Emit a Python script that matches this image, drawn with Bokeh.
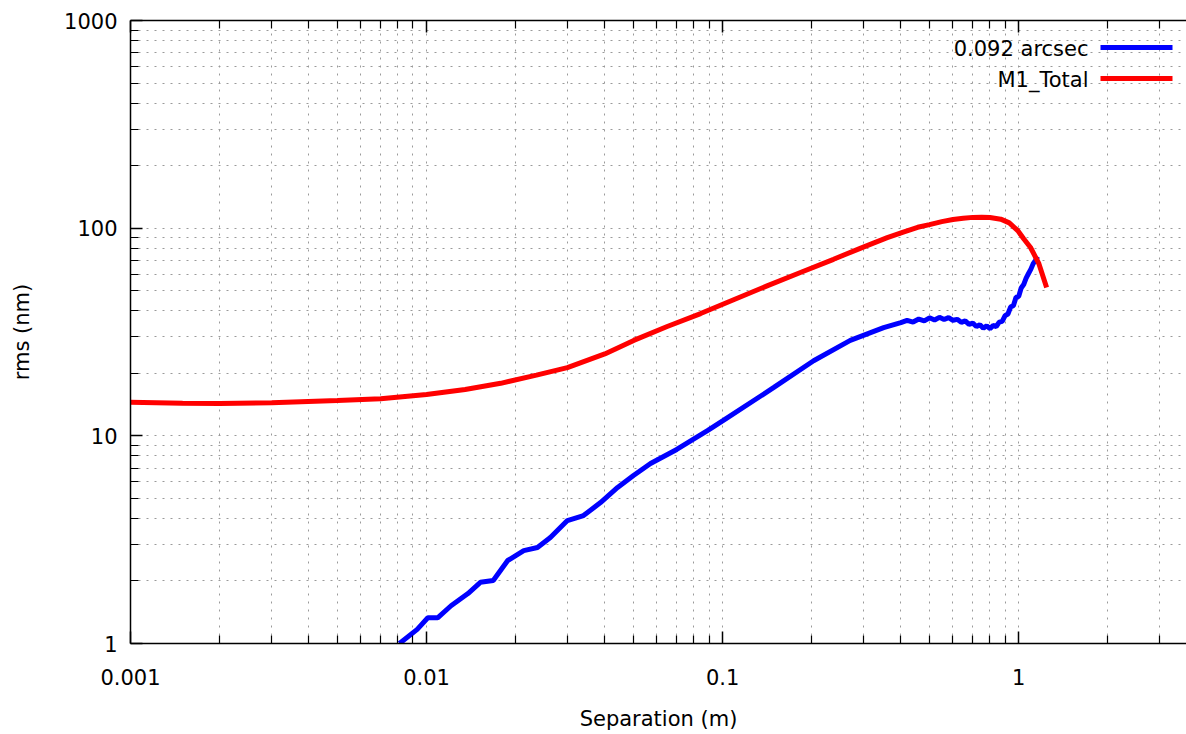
import math
from bokeh.plotting import figure
from bokeh.models import Range1d, FixedTicker, LogAxis, ColumnDataSource
from bokeh.core.properties import value
from bokeh.embed import file_html
from bokeh.resources import INLINE

# ---------------- data ----------------
series_names = ["0.092 arcsec", "M1_Total"]
series_colors = ["#0000ff", "#ff0000"]

arcsec_x = [0.0081, 0.0093, 0.0101, 0.0109, 0.0121, 0.0138, 0.0152, 0.0168, 0.0188,
            0.0213, 0.0237, 0.0262, 0.0299, 0.0339, 0.0387, 0.0442, 0.050, 0.0571,
            0.07, 0.0889, 0.1, 0.149, 0.203, 0.27, 0.35,
            0.40, 0.42, 0.44, 0.46, 0.48, 0.50, 0.52, 0.54, 0.56, 0.58, 0.60, 0.62,
            0.64, 0.66, 0.68, 0.70, 0.72, 0.74, 0.76, 0.78, 0.80, 0.82, 0.84, 0.86,
            0.88, 0.90, 0.92, 0.94, 0.96, 0.98, 1.00, 1.02, 1.04, 1.06, 1.08, 1.10,
            1.12, 1.14, 1.16]
arcsec_y = [1.0, 1.17, 1.33, 1.33, 1.52, 1.74, 1.97, 2.01, 2.51,
            2.8, 2.9, 3.24, 3.91, 4.13, 4.77, 5.64, 6.44, 7.36,
            8.6, 10.6, 11.8, 17.1, 23.0, 28.8, 33.2,
            35.1, 36.0, 35.3, 36.5, 35.8, 37.0, 36.1, 37.2, 36.3, 37.1, 36.0, 36.4,
            35.2, 35.8, 34.4, 34.9, 33.6, 34.3, 33.0, 33.9, 32.8, 34.0, 33.6, 35.3,
            35.6, 37.9, 38.6, 41.8, 42.3, 46.5, 46.8, 51.5, 53.5, 57.5, 60.5, 63.5,
            67.5, 70.0, 73.0]

total_x = [0.00098, 0.0015, 0.002, 0.003, 0.005, 0.007, 0.01, 0.0135, 0.0178,
           0.0235, 0.0299, 0.04, 0.0501, 0.065, 0.0843, 0.11, 0.142, 0.185,
           0.237, 0.293, 0.36, 0.41, 0.456, 0.5, 0.55, 0.6, 0.65, 0.7, 0.75,
           0.8, 0.87, 0.93, 0.993, 1.04, 1.097, 1.17, 1.243]
total_y = [14.5, 14.35, 14.3, 14.45, 14.8, 15.1, 15.8, 16.7, 17.9,
           19.6, 21.3, 24.8, 28.8, 33.6, 38.8, 45.5, 52.9, 61.5,
           70.8, 80.2, 90.0, 96.0, 101.0, 104.0, 107.5, 110.0, 111.5, 112.7, 113.0,
           112.5, 110.5, 106.0, 97.4, 89.0, 80.7, 67.6, 51.8]

x_tick_values = [0.001, 0.01, 0.1, 1]
x_tick_labels = ["0.001", "0.01", "0.1", "1"]
y_tick_values = [1, 10, 100, 1000]
y_tick_labels = ["1", "10", "100", "1000"]

x_label = "Separation (m)"
y_label = "rms (nm)"

# ---------------- layout ----------------
X_MIN, X_MAX = 0.001, 3.69
Y_MIN, Y_MAX = 1, 1000
FRAME_W, FRAME_H = 1056, 623
BORDER_L, BORDER_R, BORDER_T, BORDER_B = 130, 0, 20, 91
FONT = "DejaVu Sans"
FSIZE = "21px"

def minor_ticks(lo_exp, hi_exp):
    out = []
    for e in range(lo_exp, hi_exp + 1):
        for m in range(2, 10):
            out.append(m * 10.0 ** e)
    return out

x_ticker = FixedTicker(ticks=x_tick_values, minor_ticks=minor_ticks(-3, 0))
y_ticker = FixedTicker(ticks=y_tick_values, minor_ticks=minor_ticks(0, 2))

p = figure(width=BORDER_L + FRAME_W + BORDER_R, height=BORDER_T + FRAME_H + BORDER_B,
           x_axis_type="log", y_axis_type="log",
           x_range=Range1d(X_MIN, X_MAX), y_range=Range1d(Y_MIN, Y_MAX),
           output_backend="svg", toolbar_location=None,
           min_border_left=BORDER_L, min_border_right=BORDER_R,
           min_border_top=BORDER_T, min_border_bottom=BORDER_B)
p.outline_line_color = None
p.background_fill_color = "white"
p.border_fill_color = "white"

def style_axis(ax, ticker, overrides):
    ax.ticker = ticker
    ax.major_label_overrides = overrides
    ax.axis_line_color = "#000000"
    ax.axis_line_width = 1.5
    ax.major_tick_line_color = "#000000"
    ax.minor_tick_line_color = "#000000"
    ax.major_tick_line_width = 1.5
    ax.minor_tick_line_width = 1.2
    ax.major_tick_in = 12
    ax.major_tick_out = 0
    ax.minor_tick_in = 8
    ax.minor_tick_out = 0
    ax.major_label_text_font = FONT
    ax.major_label_text_font_size = FSIZE
    ax.major_label_text_color = "#000000"
    ax.axis_label_text_font = FONT
    ax.axis_label_text_font_size = FSIZE
    ax.axis_label_text_font_style = "normal"
    ax.axis_label_text_color = "#000000"

xo = {v: s for v, s in zip(x_tick_values, x_tick_labels)}
yo = {v: s for v, s in zip(y_tick_values, y_tick_labels)}

xa = p.xaxis[0]
style_axis(xa, x_ticker, xo)
xa.axis_label = x_label
xa.major_label_standoff = 25
xa.axis_label_standoff = 19

ya = p.yaxis[0]
style_axis(ya, y_ticker, yo)
ya.axis_label = y_label
ya.major_label_standoff = 13
ya.axis_label_standoff = 27

top = LogAxis()
style_axis(top, x_ticker, {v: "" for v in x_tick_values})
top.major_label_text_font_size = "0px"
top.major_label_standoff = 0
p.add_layout(top, "above")

for g in (p.xgrid[0], p.ygrid[0]):
    g.grid_line_color = "#9a9a9a"
    g.grid_line_dash = "2 6"
    g.grid_line_width = 1
    g.minor_grid_line_color = "#9a9a9a"
    g.minor_grid_line_dash = "2 6"
    g.minor_grid_line_width = 1

p.line(arcsec_x, arcsec_y, line_color=series_colors[0], line_width=5)
p.line(total_x, total_y, line_color=series_colors[1], line_width=5)

# ---------------- legend (gnuplot style: label then sample) ----------------
def fx(px):
    lo, hi = math.log10(X_MIN), math.log10(X_MAX)
    return 10 ** (lo + px / FRAME_W * (hi - lo))

def fy(py):
    lo, hi = math.log10(Y_MIN), math.log10(Y_MAX)
    return 10 ** (hi - py / FRAME_H * (hi - lo))

rows = [27, 58]
leg = ColumnDataSource(dict(
    tx=[fx(958)] * 2, ty=[fy(r + 1) for r in rows], text=series_names,
    x0=[fx(970)] * 2, x1=[fx(1042)] * 2, y=[fy(r) for r in rows], color=series_colors))
p.text(x="tx", y="ty", text="text", source=leg, text_align="right", text_baseline="middle",
       text_font=value(FONT), text_font_size=FSIZE, text_color="#000000")
p.segment(x0="x0", y0="y", x1="x1", y1="y", source=leg, line_color="color", line_width=5)

open("out.html", "w").write(file_html(p, INLINE))
